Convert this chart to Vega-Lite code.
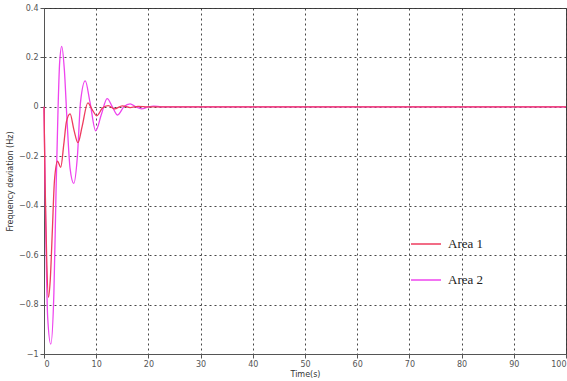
{
  "$schema": "https://vega.github.io/schema/vega-lite/v6.json",
  "autosize": "none",
  "width": 522,
  "height": 346,
  "padding": {"left": 44, "top": 8, "right": 1, "bottom": 27},
  "background": "white",
  "config": {
    "view": {"stroke": "#444", "strokeWidth": 1},
    "axis": {
      "gridColor": "#333",
      "gridDash": [2, 3],
      "gridOpacity": 0.9,
      "gridWidth": 1,
      "domainColor": "#555",
      "tickColor": "#555",
      "labelColor": "#555",
      "labelFont": "DejaVu Sans",
      "labelFontSize": 8,
      "titleFont": "DejaVu Sans",
      "titleFontSize": 8,
      "titleFontWeight": "normal",
      "titleColor": "#333"
    }
  },
  "data": {
    "values": [
      {"t": 0, "v": 0, "s": "Area 2"},
      {"t": 0.3, "v": -0.45, "s": "Area 2"},
      {"t": 0.7, "v": -0.85, "s": "Area 2"},
      {"t": 1.3, "v": -0.96, "s": "Area 2"},
      {"t": 1.9, "v": -0.75, "s": "Area 2"},
      {"t": 2.3, "v": -0.35, "s": "Area 2"},
      {"t": 2.7, "v": 0.0, "s": "Area 2"},
      {"t": 3.0, "v": 0.18, "s": "Area 2"},
      {"t": 3.4, "v": 0.245, "s": "Area 2"},
      {"t": 3.9, "v": 0.15, "s": "Area 2"},
      {"t": 4.4, "v": -0.05, "s": "Area 2"},
      {"t": 5.0, "v": -0.25, "s": "Area 2"},
      {"t": 5.7, "v": -0.31, "s": "Area 2"},
      {"t": 6.4, "v": -0.2, "s": "Area 2"},
      {"t": 7.0, "v": 0.02, "s": "Area 2"},
      {"t": 7.9, "v": 0.105, "s": "Area 2"},
      {"t": 8.8, "v": 0.02, "s": "Area 2"},
      {"t": 9.9, "v": -0.097, "s": "Area 2"},
      {"t": 11.0, "v": -0.03, "s": "Area 2"},
      {"t": 12.1, "v": 0.033, "s": "Area 2"},
      {"t": 13.1, "v": 0.0, "s": "Area 2"},
      {"t": 14.1, "v": -0.033, "s": "Area 2"},
      {"t": 15.3, "v": 0.0, "s": "Area 2"},
      {"t": 16.5, "v": 0.012, "s": "Area 2"},
      {"t": 17.6, "v": 0.0, "s": "Area 2"},
      {"t": 18.7, "v": -0.008, "s": "Area 2"},
      {"t": 20, "v": 0, "s": "Area 2"},
      {"t": 21, "v": 0.003, "s": "Area 2"},
      {"t": 22.5, "v": 0, "s": "Area 2"},
      {"t": 100, "v": 0, "s": "Area 2"},
      {"t": 0, "v": 0, "s": "Area 1"},
      {"t": 0.2, "v": -0.3, "s": "Area 1"},
      {"t": 0.5, "v": -0.6, "s": "Area 1"},
      {"t": 0.85, "v": -0.77, "s": "Area 1"},
      {"t": 1.2, "v": -0.7, "s": "Area 1"},
      {"t": 1.6, "v": -0.5, "s": "Area 1"},
      {"t": 2.0, "v": -0.3, "s": "Area 1"},
      {"t": 2.6, "v": -0.22, "s": "Area 1"},
      {"t": 3.2, "v": -0.245, "s": "Area 1"},
      {"t": 3.8, "v": -0.15, "s": "Area 1"},
      {"t": 4.3, "v": -0.06, "s": "Area 1"},
      {"t": 5.0, "v": -0.028, "s": "Area 1"},
      {"t": 5.7, "v": -0.09, "s": "Area 1"},
      {"t": 6.5, "v": -0.145, "s": "Area 1"},
      {"t": 7.3, "v": -0.08, "s": "Area 1"},
      {"t": 8.4, "v": 0.016, "s": "Area 1"},
      {"t": 9.2, "v": -0.01, "s": "Area 1"},
      {"t": 10.1, "v": -0.036, "s": "Area 1"},
      {"t": 11.2, "v": -0.005, "s": "Area 1"},
      {"t": 12.3, "v": 0.005, "s": "Area 1"},
      {"t": 13.5, "v": -0.008, "s": "Area 1"},
      {"t": 15, "v": 0.004, "s": "Area 1"},
      {"t": 16.5, "v": -0.003, "s": "Area 1"},
      {"t": 18, "v": 0.002, "s": "Area 1"},
      {"t": 20, "v": 0, "s": "Area 1"},
      {"t": 100, "v": 0, "s": "Area 1"}
    ]
  },
  "mark": {"type": "line", "interpolate": "monotone", "strokeWidth": 1.3},
  "encoding": {
    "x": {
      "field": "t", "type": "quantitative",
      "scale": {"domain": [0, 100], "nice": false},
      "axis": {"title": "Time(s)", "values": [0,10,20,30,40,50,60,70,80,90,100], "tickSize": 4, "labelPadding": 2, "titlePadding": 2}
    },
    "y": {
      "field": "v", "type": "quantitative",
      "scale": {"domain": [-1, 0.4], "nice": false, "zero": false},
      "axis": {"title": "Frequency deviation (Hz)", "format": ".1~f", "values": [-1,-0.8,-0.6,-0.4,-0.2,0,0.2,0.4], "tickSize": 4, "labelPadding": 2, "titlePadding": 4}
    },
    "color": {
      "field": "s", "type": "nominal",
      "scale": {"domain": ["Area 1", "Area 2"], "range": ["#ee3b5e", "#ee44ee"]},
      "legend": {
        "title": null,
        "orient": "none",
        "legendX": 366,
        "legendY": 220,
        "symbolType": "stroke",
        "symbolSize": 900,
        "symbolStrokeWidth": 1.5,
        "labelFont": "Liberation Serif",
        "labelFontSize": 13,
        "labelColor": "#222",
        "rowPadding": 13,
        "labelOffset": 6
      }
    },
    "order": {"field": "s", "sort": "descending"}
  }
}
